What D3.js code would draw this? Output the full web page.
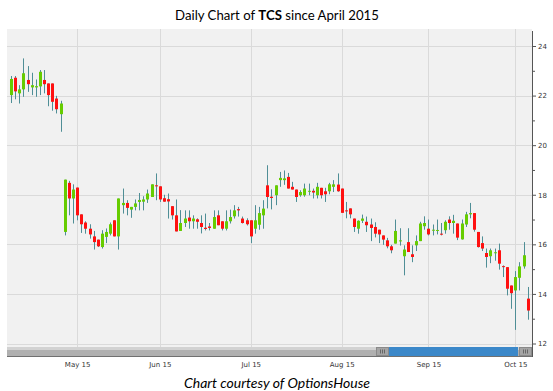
<!DOCTYPE html>
<html>
    <head>
        <meta charset="utf-8">
        <title>TCS daily</title>
        <style>
            html, body {
                margin: 0px;
                padding: 0px;
                background-color: #fff;
            }

            svg text {
                font-family: "DejaVu Sans", Verdana, sans-serif;
            }

            .axis text {
                fill: #333;
                font-size: 7px;
            }

            .axis line, .axis path {
                stroke: #555;
            }

            .title {
                font-family: Lato, sans-serif;
                font-size: 13.2px;
                fill: #000;
            }

            .caption {
                font-family: Lato, sans-serif;
                font-size: 14px;
                font-style: italic;
                fill: #000;
            }
        </style>
        <script src="https://cdn.jsdelivr.net/npm/d3@7"></script>
    </head>
    <body>
        <div id="main"></div>

        <script>
            // daily candles, one per trading day, late Apr -> end Oct 2015
            var opens = [22.02, 22.72, 22.09, 22.25, 22.63, 22.33, 22.33, 22.37, 22.63, 22.49, 22.49, 21.88, 21.25,
                16.50, 18.48, 17.85, 18.29, 17.21, 16.88, 16.63, 16.32, 16.19, 15.89, 16.30, 16.43, 16.97, 16.32,
                17.58, 17.67, 17.40, 17.51, 17.71, 17.72, 17.81, 17.91, 18.38, 18.34, 17.86, 17.82, 17.54, 17.17,
                16.54, 16.86, 17.08, 16.93, 17.01, 16.86, 16.67, 16.72, 16.63, 17.17, 16.93, 16.63, 16.93, 17.13,
                17.42, 17.04, 16.97, 16.97, 16.63, 16.79, 17.17, 18.38, 17.92, 17.98, 18.59, 18.59, 18.72, 18.32,
                18.21, 17.98, 17.98, 18.12, 18.16, 17.98, 18.28, 18.14, 18.14, 18.32, 18.41, 18.25, 17.37, 17.45,
                17.04, 16.63, 16.95, 16.91, 16.80, 16.70, 16.59, 16.36, 16.16, 15.92, 16.03, 16.13, 15.52, 16.09,
                15.60, 15.96, 16.13, 16.73, 16.63, 16.55, 16.54, 16.43, 16.57, 17.00, 16.86, 16.84, 16.20, 16.80,
                17.21, 17.26, 16.50, 16.05, 15.65, 15.52, 15.64, 15.76, 15.12, 15.08, 14.34, 14.14, 14.65, 15.11, 13.81];
            var highs = [22.79, 22.79, 22.42, 23.50, 23.19, 22.92, 22.65, 23.03, 23.03, 22.49, 22.49, 21.99, 21.79,
                18.61, 18.56, 18.42, 18.29, 17.21, 16.93, 16.81, 16.54, 16.19, 16.57, 16.64, 16.88, 16.97, 17.85,
                18.25, 17.78, 17.51, 17.81, 18.07, 17.94, 18.21, 18.42, 18.86, 18.34, 18.00, 18.05, 17.54, 17.81,
                17.38, 17.37, 17.37, 17.17, 17.05, 17.17, 17.24, 16.86, 17.37, 17.37, 16.93, 17.37, 17.40, 17.58,
                17.51, 17.12, 17.05, 16.97, 17.58, 17.51, 17.78, 19.19, 18.22, 18.38, 18.92, 18.98, 18.88, 18.52,
                18.21, 18.18, 18.45, 18.45, 18.25, 18.48, 18.28, 18.28, 18.48, 18.59, 18.86, 18.25, 17.71, 17.45,
                17.04, 16.97, 17.20, 17.12, 17.04, 16.89, 16.59, 16.36, 16.26, 15.98, 17.00, 16.65, 15.96, 16.65,
                15.96, 16.36, 16.91, 17.13, 17.00, 16.80, 17.00, 16.86, 16.97, 17.13, 17.19, 16.84, 17.00, 17.31,
                17.67, 17.26, 16.50, 16.32, 15.83, 15.83, 15.83, 16.03, 15.15, 15.08, 14.34, 14.92, 15.28, 16.09, 14.28];
            var lows = [21.70, 21.85, 21.68, 21.95, 22.15, 22.02, 21.95, 22.02, 22.09, 21.57, 21.39, 21.28, 20.54,
                16.36, 17.17, 16.84, 16.97, 16.46, 16.43, 16.23, 15.79, 15.89, 15.83, 16.05, 16.36, 16.32, 15.79,
                17.24, 17.17, 17.07, 17.37, 17.37, 17.37, 17.67, 17.91, 17.78, 17.71, 17.72, 17.04, 17.00, 16.52,
                16.54, 16.70, 16.63, 16.63, 16.63, 16.44, 16.56, 16.56, 16.63, 16.77, 16.56, 16.56, 16.84, 17.04,
                17.12, 16.84, 16.76, 16.05, 16.43, 16.59, 16.63, 17.45, 17.41, 17.58, 18.32, 18.40, 18.25, 18.21,
                17.71, 17.92, 17.92, 17.98, 17.85, 17.85, 17.85, 17.71, 18.02, 18.11, 18.12, 17.27, 17.05, 17.05,
                16.50, 16.43, 16.86, 16.50, 16.13, 16.28, 16.05, 15.98, 15.84, 15.64, 16.03, 15.95, 14.75, 15.69,
                15.28, 15.73, 16.13, 16.59, 16.36, 16.36, 16.40, 16.36, 16.43, 16.59, 16.43, 16.17, 16.19, 16.70,
                17.05, 16.51, 15.87, 15.73, 15.06, 15.24, 15.34, 14.98, 14.68, 13.94, 13.40, 12.55, 14.14, 15.02, 12.96];
            var closes = [22.67, 22.17, 22.25, 22.90, 22.46, 22.42, 22.38, 22.96, 22.46, 22.02, 21.75, 21.45, 21.68,
                18.61, 17.85, 18.21, 17.17, 16.81, 16.63, 16.40, 16.09, 15.92, 16.43, 16.50, 16.81, 16.32, 17.85,
                17.67, 17.47, 17.51, 17.65, 17.79, 17.81, 18.05, 18.42, 18.34, 17.81, 17.72, 17.73, 17.17, 16.52,
                16.86, 17.04, 16.93, 17.04, 16.91, 16.70, 16.62, 16.66, 17.10, 16.77, 16.63, 16.93, 17.10, 17.37,
                17.37, 16.86, 16.81, 16.32, 16.97, 17.26, 17.44, 17.91, 17.87, 18.38, 18.68, 18.66, 18.25, 18.21,
                17.91, 18.11, 18.25, 18.16, 18.09, 18.32, 17.98, 18.02, 18.42, 18.42, 18.14, 17.27, 17.33, 17.21,
                16.70, 16.95, 17.04, 16.77, 16.66, 16.43, 16.40, 16.19, 15.92, 15.76, 16.54, 16.16, 15.79, 15.69,
                15.49, 16.13, 16.84, 16.86, 16.40, 16.59, 16.58, 16.39, 16.91, 16.86, 16.95, 16.27, 16.84, 17.21,
                17.26, 16.59, 15.89, 15.83, 15.49, 15.76, 15.68, 15.22, 15.08, 14.21, 14.03, 14.68, 15.11, 15.56, 13.33];

            var tickIndex = [16, 36, 58, 80, 101, 122];
            var tickLabels = ["May 15", "Jun 15", "Jul 15", "Aug 15", "Sep 15", "Oct 15"];
            var priceTicks = [12, 14, 16, 18, 20, 22, 24];
            var minorTicks = [13, 15, 17, 19, 21, 23];

            var width = 553;
            var height = 391;
            var plotLeft = 7, plotRight = 532, plotTop = 29, plotBottom = 347;

            function main() {
                var svg = d3.select("#main")
                            .append("svg")
                            .attr("width", width)
                            .attr("height", height);

                var n = opens.length;
                var x = d3.scaleLinear()
                            .domain([0, n - 1])
                            .range([11, 527.7]);

                var y = d3.scaleLinear()
                            .domain([12, 24])
                            .range([343.5, 46]);

                svg.append("rect")
                    .attr("x", plotLeft)
                    .attr("y", plotTop)
                    .attr("width", plotRight - plotLeft)
                    .attr("height", plotBottom - plotTop)
                    .attr("fill", "#f1f1f1");

                // grid
                svg.append("g").selectAll("line")
                    .data(priceTicks)
                    .enter().append("line")
                    .attr("x1", plotLeft).attr("x2", plotRight)
                    .attr("y1", function(d) { return Math.round(y(d)) + 0.5; })
                    .attr("y2", function(d) { return Math.round(y(d)) + 0.5; })
                    .attr("stroke", "#dadada");

                svg.append("g").selectAll("line")
                    .data(tickIndex)
                    .enter().append("line")
                    .attr("y1", plotTop).attr("y2", plotBottom)
                    .attr("x1", function(d) { return Math.round(x(d)) + 0.5; })
                    .attr("x2", function(d) { return Math.round(x(d)) + 0.5; })
                    .attr("stroke", "#dadada");

                // candles
                var candle = svg.append("g").selectAll("g")
                    .data(d3.range(n))
                    .enter().append("g");

                candle.append("line")
                    .attr("x1", function(i) { return Math.round(x(i)) + 0.5; })
                    .attr("x2", function(i) { return Math.round(x(i)) + 0.5; })
                    .attr("y1", function(i) { return y(highs[i]); })
                    .attr("y2", function(i) { return y(lows[i]); })
                    .attr("stroke", "#4f8e96")
                    .attr("stroke-width", 1);

                candle.append("rect")
                    .attr("x", function(i) { return Math.round(x(i)) - 1; })
                    .attr("width", 3)
                    .attr("y", function(i) { return y(Math.max(opens[i], closes[i])); })
                    .attr("height", function(i) {
                        return Math.max(1, Math.abs(y(opens[i]) - y(closes[i])));
                    })
                    .attr("fill", function(i) { return closes[i] >= opens[i] ? "#66cc00" : "#ff1010"; });

                // right price axis
                var yAxis = svg.append("g")
                    .attr("class", "axis")
                    .attr("transform", "translate(" + plotRight + ",0)")
                    .call(d3.axisRight(y).tickValues(priceTicks).tickSize(4).tickPadding(2));
                yAxis.select(".domain").remove();

                var yMinor = svg.append("g")
                    .attr("class", "axis")
                    .attr("transform", "translate(" + plotRight + ",0)")
                    .call(d3.axisRight(y).tickValues(minorTicks).tickSize(3).tickFormat(""));
                yMinor.select(".domain").remove();

                // scrollbar
                var sb = svg.append("g");
                sb.append("rect")
                    .attr("x", plotLeft).attr("y", 347)
                    .attr("width", plotRight - plotLeft).attr("height", 9)
                    .attr("fill", "#b0b0b0");
                sb.append("rect")
                    .attr("x", plotLeft).attr("y", 347)
                    .attr("width", plotRight - plotLeft).attr("height", 3)
                    .attr("fill", "#d2d2d2");
                sb.append("line")
                    .attr("x1", plotLeft).attr("x2", plotRight)
                    .attr("y1", 356.5).attr("y2", 356.5)
                    .attr("stroke", "#707070");
                sb.append("rect")
                    .attr("x", 389).attr("y", 347)
                    .attr("width", 518 - 389).attr("height", 9)
                    .attr("fill", "#3b88c9");
                [376, 519].forEach(function(hx) {
                    sb.append("rect")
                        .attr("x", hx + 0.5).attr("y", 347.5)
                        .attr("width", 12).attr("height", 8)
                        .attr("fill", "#a4a4a4")
                        .attr("stroke", "#8a8a8a");
                    [4, 6, 8].forEach(function(gx) {
                        sb.append("line")
                            .attr("x1", hx + gx + 0.5).attr("x2", hx + gx + 0.5)
                            .attr("y1", 349.5).attr("y2", 353.5)
                            .attr("stroke", "#666");
                    });
                });

                svg.append("line")
                    .attr("x1", plotRight + 0.5).attr("x2", plotRight + 0.5)
                    .attr("y1", 31).attr("y2", 357)
                    .attr("stroke", "#555");

                // date axis
                svg.append("g")
                    .attr("class", "axis")
                    .attr("transform", "translate(0,359)")
                    .call(d3.axisBottom(x).tickValues(tickIndex).tickSize(0).tickPadding(3)
                        .tickFormat(function(d, i) { return tickLabels[i]; }))
                    .select(".domain").remove();

                var title = svg.append("text")
                    .attr("class", "title")
                    .attr("x", 277)
                    .attr("y", 20)
                    .style("text-anchor", "middle");
                title.append("tspan").text("Daily Chart of ");
                title.append("tspan").style("font-weight", "bold").text("TCS");
                title.append("tspan").text(" since April 2015");

                svg.append("text")
                    .attr("class", "caption")
                    .attr("x", 277)
                    .attr("y", 388)
                    .style("text-anchor", "middle")
                    .text("Chart courtesy of OptionsHouse");
            }

            main();
        </script>
    </body>
</html>
